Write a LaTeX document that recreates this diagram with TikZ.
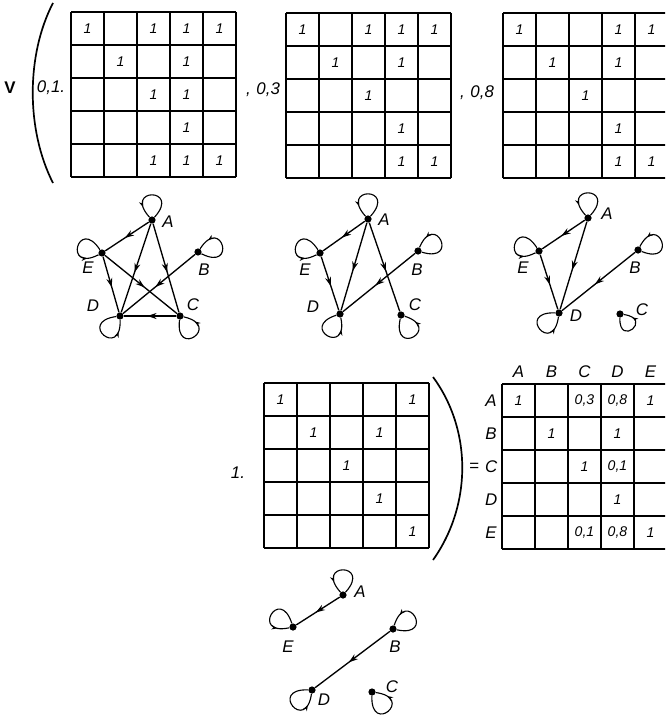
\documentclass[tikz,border=0pt]{standalone}
\usepackage{fontspec}
\setmainfont{Liberation Sans}
\usetikzlibrary{arrows.meta,decorations.markings}

\begin{document}
\begin{tikzpicture}[x=0.25mm, y=-0.25mm, font=\itshape]
\tikzset{
    GRD/.style={line width=1.2pt},
    ONE/.style={font=\normalsize\itshape, inner sep=0pt},
    KOEF/.style={font=\large\itshape, inner sep=0pt},
    VTX/.style={circle, fill=black, inner sep=0pt, minimum size=1.8mm},
    VLB/.style={font=\large\itshape, inner sep=0pt},
    EDG/.style={line width=0.95pt, decoration={markings,
                mark=at position 0.55 with {\arrow{Stealth[length=2.3mm,width=1.5mm]}}},
                postaction={decorate}},
    LOOP/.style={line width=0.8pt, min distance=10mm, looseness=8,
                decoration={markings,
                mark=at position 0.8 with {\arrow{Stealth[length=1.4mm,width=1.1mm]}}},
                postaction={decorate}},
    PAR/.style={line width=1.2pt},
}
\useasboundingbox (0,0) rectangle (665,715);
\clip (0,0) rectangle (665,715);

%── Top row: V ( 0,1.M1 , 0,3 M2 , 0,8 M3 ──
\node[font=\large\bfseries\upshape] (vee) at (10,88) {V};
\draw[PAR] (53,3) .. controls (26,55) and (26,130) .. (53,183);
\node[KOEF] (k1) at (51,88) {0,1.};
\node[KOEF] (k3) at (263,90) {,\,\,0,3};
\node[KOEF] (k8) at (477,93) {,\,\,0,8};

\begin{scope}[shift={(71,12)}, x=8.25mm, y=-8.25mm]   % M1
  \foreach \i in {0,...,5} {\draw[GRD] (\i,0) -- (\i,5); \draw[GRD] (0,\i) -- (5,\i);}
  \foreach \r/\c in {1/1,1/3,1/4,1/5,2/2,2/4,3/3,3/4,4/4,5/3,5/4,5/5}
    \node[ONE] (ma-\r-\c) at (\c-0.5,\r-0.5) {1};
\end{scope}

\begin{scope}[shift={(286,13)}, x=8.25mm, y=-8.25mm]  % M2
  \foreach \i in {0,...,5} {\draw[GRD] (\i,0) -- (\i,5); \draw[GRD] (0,\i) -- (5,\i);}
  \foreach \r/\c in {1/1,1/3,1/4,1/5,2/2,2/4,3/3,4/4,5/4,5/5}
    \node[ONE] (mb-\r-\c) at (\c-0.5,\r-0.5) {1};
\end{scope}

\begin{scope}[shift={(503,13)}, x=8.25mm, y=-8.25mm]  % M3 (runs off the page)
  \foreach \i in {0,...,5} {\draw[GRD] (\i,0) -- (\i,5); \draw[GRD] (0,\i) -- (5,\i);}
  \foreach \r/\c in {1/1,1/4,1/5,2/2,2/4,3/3,4/4,5/4,5/5}
    \node[ONE] (mc-\r-\c) at (\c-0.5,\r-0.5) {1};
\end{scope}

%── Graph 0,1 ──
\node[VTX] (a1) at (152,220) {};
\node[VTX] (e1) at (102,253) {};
\node[VTX] (b1) at (198,252) {};
\node[VTX] (d1) at (120,316) {};
\node[VTX] (c1) at (180,316) {};
\node[VLB] at (168,222) {A};
\node[VLB] at (88,268) {E};
\node[VLB] at (204,270) {B};
\node[VLB] at (93,306) {D};
\node[VLB] at (193,305) {C};
\draw[EDG] (a1) -- (e1);
\draw[EDG] (a1) -- (d1);
\draw[EDG] (a1) -- (c1);
\draw[EDG] (e1) -- (d1);
\draw[EDG] (e1) -- (c1);
\draw[EDG] (b1) -- (d1);
\draw[EDG] (c1) -- (d1);
\draw[LOOP] (a1) to[out=48,in=132] (a1);
\draw[LOOP] (e1) to[out=123,in=207] (e1);
\draw[LOOP] (b1) to[out=-27,in=57] (b1);
\draw[LOOP] (d1) to[out=-172,in=-88] (d1);
\draw[LOOP] (c1) to[out=-97,in=-13] (c1);

%── Graph 0,3 ──
\node[VTX] (a3) at (368,219) {};
\node[VTX] (e3) at (320,253) {};
\node[VTX] (b3) at (418,251) {};
\node[VTX] (d3) at (340,314) {};
\node[VTX] (c3) at (401,315) {};
\node[VLB] at (384,220) {A};
\node[VLB] at (305,270) {E};
\node[VLB] at (417,270) {B};
\node[VLB] at (313,307) {D};
\node[VLB] at (415,305) {C};
\draw[EDG] (a3) -- (e3);
\draw[EDG] (a3) -- (d3);
\draw[EDG] (a3) -- (c3);
\draw[EDG] (e3) -- (d3);
\draw[EDG] (b3) -- (d3);
\draw[LOOP] (a3) to[out=48,in=132] (a3);
\draw[LOOP] (e3) to[out=123,in=207] (e3);
\draw[LOOP] (b3) to[out=-17,in=67] (b3);
\draw[LOOP] (d3) to[out=-162,in=-78] (d3);
\draw[LOOP] (c3) to[out=-102,in=-18] (c3);

%── Graph 0,8 ──
\node[VTX] (a8) at (588,218) {};
\node[VTX] (e8) at (539,251) {};
\node[VTX] (b8) at (638,250) {};
\node[VTX] (d8) at (559,313) {};
\node[VTX] (c8) at (620,314) {};
\node[VLB] at (607,214) {A};
\node[VLB] at (523,268) {E};
\node[VLB] at (635,268) {B};
\node[VLB] at (576,316) {D};
\node[VLB] at (642,310) {C};
\draw[EDG] (a8) -- (e8);
\draw[EDG] (a8) -- (d8);
\draw[EDG] (e8) -- (d8);
\draw[EDG] (b8) -- (d8);
\draw[LOOP] (a8) to[out=48,in=132] (a8);
\draw[LOOP] (e8) to[out=123,in=207] (e8);
\draw[LOOP] (b8) to[out=-22,in=62] (b8);
\draw[LOOP] (d8) to[out=-182,in=-98] (d8);
\draw[LOOP, min distance=7.5mm] (c8) to[out=-92,in=-8] (c8);

%── Bottom: 1. M ) = result ──
\node[KOEF] (k0) at (238,473) {1.};
\begin{scope}[shift={(264,383)}, x=8.25mm, y=-8.25mm]  % M1.0
  \foreach \i in {0,...,5} {\draw[GRD] (\i,0) -- (\i,5); \draw[GRD] (0,\i) -- (5,\i);}
  \foreach \r/\c in {1/1,1/5,2/2,2/4,3/3,4/4,5/5}
    \node[ONE] (md-\r-\c) at (\c-0.5,\r-0.5) {1};
\end{scope}
\draw[PAR] (433,377) .. controls (472,430) and (472,505) .. (433,560);

\node[KOEF] (eq) at (474,467) {=};
\begin{scope}[shift={(502,384)}, x=8.25mm, y=-8.25mm] % result
  \foreach \i in {0,...,5} {\draw[GRD] (\i,0) -- (\i,5); \draw[GRD] (0,\i) -- (5,\i);}
  \foreach \n [count=\k] in {A,B,C,D,E} {
    \node[VLB] (col-\n) at (\k-0.5,-0.37) {\n};
    \node[VLB] (row-\n) at (-0.33,\k-0.5) {\n};
  }
  \foreach \r/\c/\v in {1/1/1,1/3/{0,3},1/4/{0,8},1/5/1,2/2/1,2/4/1,3/3/1,
                        3/4/{0,1},4/4/1,5/3/{0,1},5/4/{0,8},5/5/1}
    \node[ONE] (mr-\r-\c) at (\c-0.5,\r-0.5) {\v};
\end{scope}

%── Graph 1 ──
\node[VTX] (a0) at (343,595) {};
\node[VTX] (e0) at (293,627) {};
\node[VTX] (b0) at (393,629) {};
\node[VTX] (d0) at (312,690) {};
\node[VTX] (c0) at (372,692) {};
\node[VLB] at (360,592) {A};
\node[VLB] at (288,647) {E};
\node[VLB] at (395,647) {B};
\node[VLB] at (324,700) {D};
\node[VLB] at (392,687) {C};
\draw[EDG] (a0) -- (e0);
\draw[EDG] (b0) -- (d0);
\draw[LOOP] (a0) to[out=48,in=132] (a0);
\draw[LOOP] (e0) to[out=108,in=192] (e0);
\draw[LOOP] (b0) to[out=-12,in=72] (b0);
\draw[LOOP] (d0) to[out=-182,in=-98] (d0);
\draw[LOOP] (c0) to[out=-92,in=-8] (c0);

\end{tikzpicture}
\end{document}
